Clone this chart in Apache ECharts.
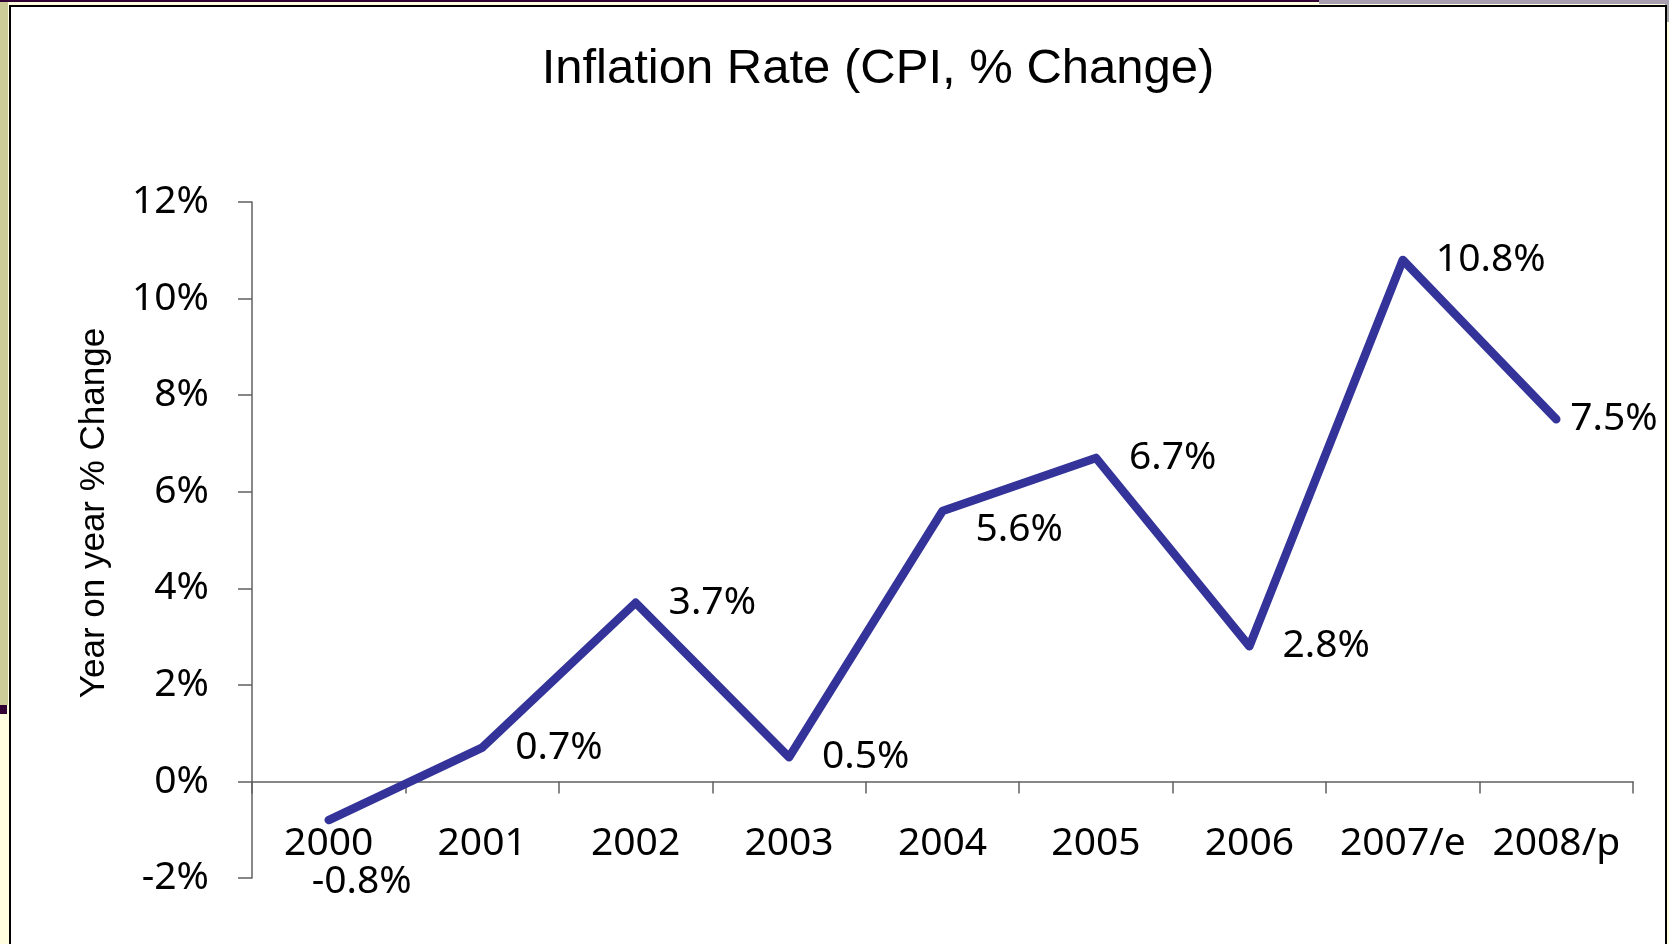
<!DOCTYPE html>
<html>
<head>
<meta charset="utf-8">
<title>Inflation Rate (CPI, % Change)</title>
<script src="https://cdn.jsdelivr.net/npm/echarts@6/dist/echarts.min.js"></script>
<style>
  html, body { margin: 0; padding: 0; width: 1669px; height: 944px; overflow: hidden; background: #ffffe0; }
  .strip { position: absolute; }
  #panel { position: absolute; left: 9px; top: 5px; width: 1658px; height: 960px; box-sizing: border-box; border: 2px solid #000; background: #fff; }
  #chart { position: absolute; left: 0; top: 0; width: 1669px; height: 944px; }
</style>
</head>
<body>
<div class="strip" style="left:0;top:0;width:8px;height:705px;background:#cccc99"></div>
<div class="strip" style="left:0;top:705px;width:7px;height:9px;background:#330033"></div>
<div class="strip" style="left:0;top:0;width:1319px;height:2px;background:#330033"></div>
<div class="strip" style="left:1319px;top:0;width:350px;height:4px;background:#a8a0b0"></div>
<div class="strip" style="left:1665px;top:4px;width:4px;height:18px;background:#a8a8a8"></div>
<div id="panel"></div>
<div id="chart"></div>
<script>
const years = ['2000', '2001', '2002', '2003', '2004', '2005', '2006', '2007/e', '2008/p'];
const inflation = [-0.8, 0.7, 3.7, 0.5, 5.6, 6.7, 2.8, 10.8, 7.5];
const yTicks = { min: -2, max: 12, step: 2 };

const lineColor = '#333399';
const axisColor = '#606060';
const textFont = '"Noto Sans", "Open Sans", sans-serif';
const narrowFont = '"Liberation Sans Narrow", "Arial Narrow", "Liberation Sans", sans-serif';

// Excel placed a few labels off the usual "right" spot
const labelShift = { 0: [-50, 62], 4: [0, 19], 8: [-19, 0] };

const chart = echarts.init(document.getElementById('chart'));

chart.setOption({
  backgroundColor: 'transparent',
  animation: false,
  title: {
    text: 'Inflation Rate (CPI, % Change)',
    left: 873,
    top: 40,
    textAlign: 'center',
    textStyle: {
      fontFamily: narrowFont,
      fontSize: 49,
      fontWeight: 'normal',
      color: '#000',
    },
  },
  grid: {
    left: 252,
    right: 36,
    top: 202,
    bottom: 66,
    containLabel: false,
    outerBoundsMode: 'none',
  },
  xAxis: {
    type: 'category',
    data: years,
    boundaryGap: true,
    axisLine: { onZero: true, lineStyle: { color: axisColor, width: 1.5 } },
    axisTick: { show: true, length: 12, lineStyle: { color: axisColor, width: 1.5 } },
    axisLabel: {
      margin: -54,
      color: '#000',
      fontFamily: textFont,
      fontSize: 39,
      interval: 0,
    },
  },
  yAxis: {
    type: 'value',
    min: yTicks.min,
    max: yTicks.max,
    interval: yTicks.step,
    name: 'Year on year % Change',
    nameLocation: 'middle',
    nameGap: 140,
    nameRotate: 90,
    nameTextStyle: {
      fontFamily: narrowFont,
      fontSize: 35,
      color: '#000',
      padding: [0, 0, 0, 54],
    },
    axisLine: { show: true, lineStyle: { color: axisColor, width: 1.5 } },
    axisTick: { show: true, length: 14, lineStyle: { color: axisColor, width: 1.5 } },
    splitLine: { show: false },
    axisLabel: {
      margin: 43,
      color: '#000',
      fontFamily: textFont,
      fontSize: 39,
      formatter: '{value}%',
    },
  },
  series: [{
    name: 'Inflation',
    type: 'line',
    data: inflation.map((v, i) => ({
      value: v,
      label: labelShift[i] ? { offset: labelShift[i] } : undefined,
    })),
    symbol: 'circle',
    symbolSize: 2,
    itemStyle: { color: lineColor },
    lineStyle: { color: lineColor, width: 8.5, cap: 'round', join: 'round' },
    label: {
      show: true,
      position: 'right',
      distance: 32,
      color: '#000',
      fontFamily: textFont,
      fontSize: 39,
      formatter: (p) => p.value.toFixed(1) + '%',
    },
  }],
});
</script>
</body>
</html>
